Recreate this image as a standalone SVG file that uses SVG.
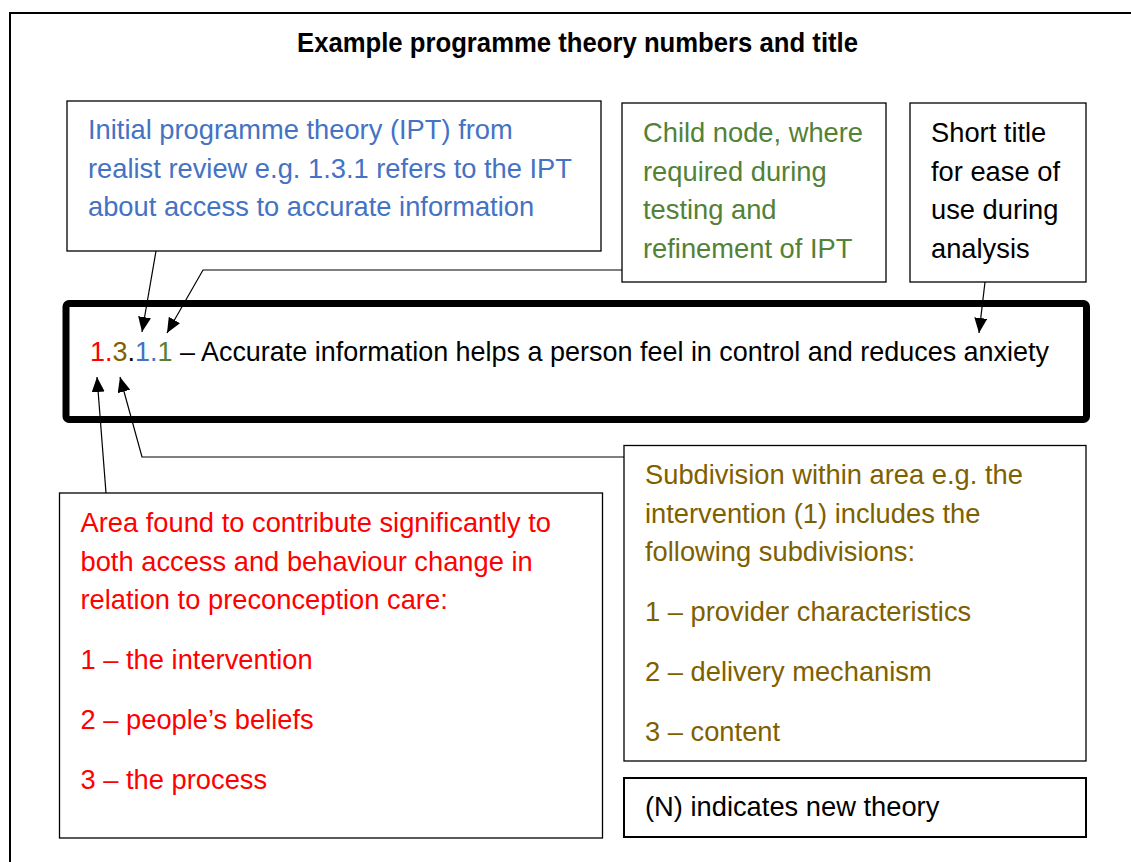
<svg xmlns="http://www.w3.org/2000/svg" width="1131" height="862" viewBox="0 0 1131 862">
<defs>
<style>
text{font-family:"Liberation Sans",Arial,sans-serif;font-size:27.3px;}
.title{font-weight:bold;font-size:27px;fill:#000;}
.box{fill:#fff;stroke:#000;stroke-width:1.3;}
.blue{fill:#4472C4;}
.green{fill:#538135;}
.olive{fill:#7F6000;}
.red{fill:#FF0000;}
.black{fill:#000;}
.conn{fill:none;stroke:#000;stroke-width:1.2;}
</style>
<marker id="arr" markerUnits="userSpaceOnUse" markerWidth="16" markerHeight="14" refX="15" refY="6.5" orient="auto">
<path d="M0,0 L15,6.5 L0,13 z" fill="#000"/>
</marker>
</defs>
<rect width="1131" height="862" fill="#fff"/>
<path d="M10,870 V13 H1140" fill="none" stroke="#000" stroke-width="2"/>
<g id="title"><text class="title" x="577.5" y="52" text-anchor="middle" textLength="561" lengthAdjust="spacingAndGlyphs">Example programme theory numbers and title</text></g>
<g id="ipt">
<rect class="box" x="67" y="101" width="534" height="150"/>
<text class="blue" x="88" y="139">Initial programme theory (IPT) from</text>
<text class="blue" x="88" y="177.5">realist review e.g. 1.3.1 refers to the IPT</text>
<text class="blue" x="88" y="216">about access to accurate information</text>
</g>
<g id="child">
<rect class="box" x="622" y="103" width="264" height="179"/>
<text class="green" x="643" y="142">Child node, where</text>
<text class="green" x="643" y="180.5">required during</text>
<text class="green" x="643" y="219">testing and</text>
<text class="green" x="643" y="257.5">refinement of IPT</text>
</g>
<g id="short">
<rect class="box" x="910" y="103" width="176" height="179"/>
<text class="black" x="931" y="142">Short title</text>
<text class="black" x="931" y="180.5">for ease of</text>
<text class="black" x="931" y="219">use during</text>
<text class="black" x="931" y="257.5">analysis</text>
</g>
<g id="main">
<rect x="66" y="303.5" width="1020.5" height="116" rx="3" fill="#fff" stroke="#000" stroke-width="7"/>
<text x="90" y="361" class="black" textLength="959" lengthAdjust="spacingAndGlyphs"><tspan class="red">1.</tspan><tspan class="olive">3</tspan><tspan class="black">.</tspan><tspan class="blue">1.</tspan><tspan class="green">1</tspan><tspan class="black"> – Accurate information helps a person feel in control and reduces anxiety</tspan></text>
</g>
<g id="subdivision">
<rect class="box" x="624" y="445.5" width="462" height="315.5"/>
<text class="olive" x="645" y="484">Subdivision within area e.g. the</text>
<text class="olive" x="645" y="522.5">intervention (1) includes the</text>
<text class="olive" x="645" y="561">following subdivisions:</text>
<text class="olive" x="645" y="621">1 – provider characteristics</text>
<text class="olive" x="645" y="681">2 – delivery mechanism</text>
<text class="olive" x="645" y="741">3 – content</text>
</g>
<g id="newtheory">
<rect x="624" y="778" width="462" height="59" fill="#fff" stroke="#000" stroke-width="2"/>
<text class="black" x="645" y="816">(N) indicates new theory</text>
</g>
<g id="area">
<rect class="box" x="59.5" y="493" width="543" height="345"/>
<text class="red" x="80.5" y="532">Area found to contribute significantly to</text>
<text class="red" x="80.5" y="570.5">both access and behaviour change in</text>
<text class="red" x="80.5" y="609">relation to preconception care:</text>
<text class="red" x="80.5" y="669">1 – the intervention</text>
<text class="red" x="80.5" y="729">2 – people’s beliefs</text>
<text class="red" x="80.5" y="789">3 – the process</text>
</g>
<g id="connectors">
<path class="conn" d="M156,251 L142,332" marker-end="url(#arr)"/>
<path class="conn" d="M622,270 L203,270 L167,333" marker-end="url(#arr)"/>
<path class="conn" d="M985,282 L979,333" marker-end="url(#arr)"/>
<path class="conn" d="M106,493 L97,377" marker-end="url(#arr)"/>
<path class="conn" d="M624,457 L142,457 L120,377" marker-end="url(#arr)"/>
</g>
</svg>
